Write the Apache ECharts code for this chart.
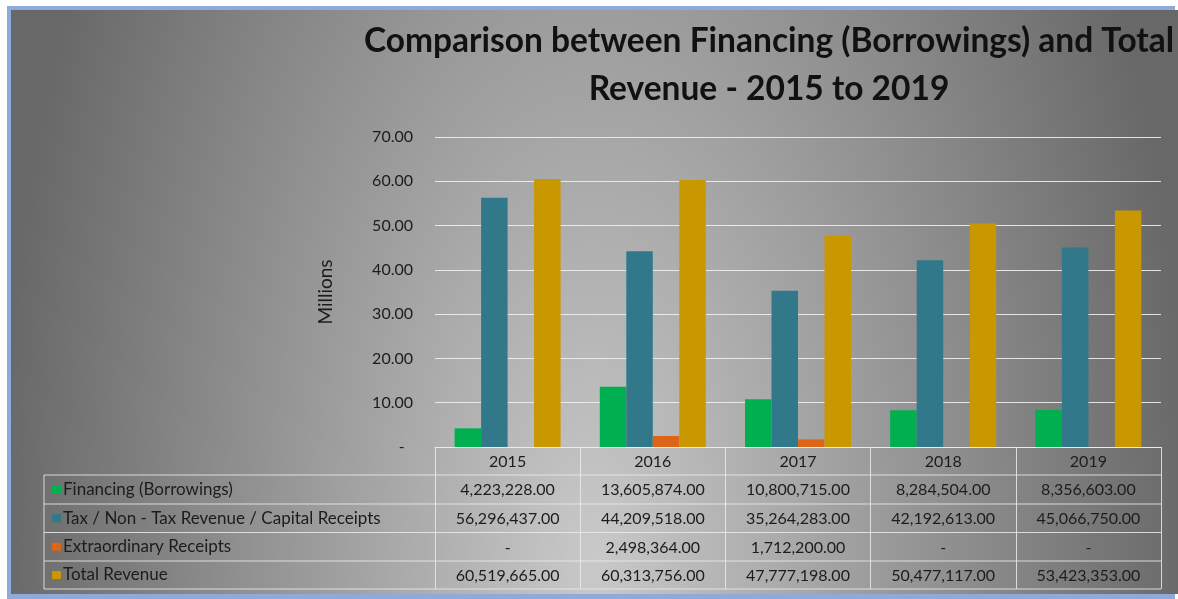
<!DOCTYPE html>
<html>
<head>
<meta charset="utf-8">
<title>Financing vs Total Revenue</title>
<script src="https://cdn.jsdelivr.net/npm/echarts@6/dist/echarts.min.js"></script>
<style>
  html, body { margin: 0; padding: 0; background: #fff; overflow: hidden; }
  #chart { width: 1178px; height: 599px; }
</style>
</head>
<body>
<div id="chart"></div>
<script>
  // data (raw values, shown in millions on the axis)
  var years = ['2015', '2016', '2017', '2018', '2019'];
  var seriesNames = ['Financing (Borrowings)', 'Tax / Non - Tax Revenue / Capital Receipts', 'Extraordinary Receipts', 'Total Revenue'];
  var financing = [4223228, 13605874, 10800715, 8284504, 8356603];
  var taxRevenue = [56296437, 44209518, 35264283, 42192613, 45066750];
  var extraordinary = [null, 2498364, 1712200, null, null];
  var totalRevenue = [60519665, 60313756, 47777198, 50477117, 53423353];
  var yMin = 0, yMax = 70, yStep = 10;
  var colors = ['#00b050', '#31788a', '#dd6517', '#c99700'];

  var rows = [financing, taxRevenue, extraordinary, totalRevenue];
  var font = 'Lato, "Open Sans", sans-serif';
  var txt = '#1c1c1c';
  var lineCol = 'rgba(235,235,235,0.85)';
  var frameCol = '#8eaadb';

  // layout of the plot + table
  var gLeft = 435, gRight = 1161, gTop = 137, gBottom = 447;
  var rowLines = [475, 504, 532.5, 561, 589];
  var tableLeft = 44;

  function fmt(v) {
    if (v == null) return '-';
    var parts = v.toFixed(2).split('.');
    return parts[0].replace(/\B(?=(\d{3})+$)/g, ',') + '.' + parts[1];
  }

  var chart = echarts.init(document.getElementById('chart'));

  var xAxes = [{
    type: 'category',
    data: years,
    gridIndex: 0,
    axisLine: { show: true, lineStyle: { color: lineCol, width: 1 } },
    axisTick: { show: true, length: rowLines[4] - gBottom, lineStyle: { color: lineCol, width: 1 } },
    axisLabel: { color: txt, fontSize: 16, fontFamily: font, margin: 7 }
  }];
  rows.forEach(function (r, k) {
    xAxes.push({
      type: 'category',
      data: years,
      gridIndex: 0,
      position: 'bottom',
      offset: rowLines[k] - gBottom,
      axisLine: { show: false },
      axisTick: { show: false },
      axisLabel: {
        color: txt, fontSize: 16, fontFamily: font, margin: 7,
        formatter: function (val, idx) { return fmt(r[idx]); }
      }
    });
  });

  var graphics = [
    {
      type: 'rect', z: -19, x: 11, y: 10, scaleY: 2,
      shape: { x: 0, y: 0, width: 1167, height: 292 },
      style: {
        fill: new echarts.graphic.RadialGradient(0.5, 0.94, 2.05, [
          { offset: 0, color: '#c9c9c9' },
          { offset: 1, color: '#686868' }
        ])
      }
    },
    // frame: top, left, bottom
    { type: 'rect', z: -18, shape: { x: 7, y: 6, width: 1168, height: 4 }, style: { fill: frameCol } },
    { type: 'rect', z: -18, shape: { x: 7, y: 6, width: 4, height: 593 }, style: { fill: frameCol } },
    { type: 'rect', z: -18, shape: { x: 7, y: 594, width: 1168, height: 5 }, style: { fill: frameCol } }
  ];
  rowLines.forEach(function (y) {
    graphics.push({ type: 'line', z: 5, shape: { x1: tableLeft, y1: y, x2: gLeft, y2: y }, style: { stroke: lineCol, lineWidth: 1 } });
    graphics.push({ type: 'line', z: 5, shape: { x1: gLeft, y1: y, x2: gRight, y2: y }, style: { stroke: lineCol, lineWidth: 1 } });
  });
  graphics.push({ type: 'line', z: 5, shape: { x1: tableLeft, y1: rowLines[0], x2: tableLeft, y2: rowLines[4] }, style: { stroke: lineCol, lineWidth: 1 } });
  seriesNames.forEach(function (name, k) {
    var cy = (rowLines[k] + rowLines[k + 1]) / 2;
    graphics.push({ type: 'rect', z: 5, shape: { x: 52, y: cy - 4, width: 9, height: 8 }, style: { fill: colors[k] } });
    graphics.push({
      type: 'text', z: 5, x: 63, y: cy,
      style: { text: name, fill: txt, fontSize: 17, fontFamily: font, verticalAlign: 'middle', align: 'left' }
    });
  });

  var option = {
    backgroundColor: '#ffffff',
    animation: false,
    color: colors,
    title: {
      text: 'Comparison between Financing (Borrowings) and Total\nRevenue - 2015 to 2019',
      left: 764,
      top: 12,
      textAlign: 'center',
      textStyle: { color: '#111', fontSize: 33.5, fontWeight: 'bold', fontFamily: font, lineHeight: 48 }
    },
    grid: { left: gLeft, right: 1178 - gRight, top: gTop, bottom: 599 - gBottom, containLabel: false },
    xAxis: xAxes,
    yAxis: {
      type: 'value',
      min: yMin, max: yMax, interval: yStep,
      name: 'Millions',
      nameLocation: 'middle',
      nameRotate: 90,
      nameGap: 100,
      nameTextStyle: { color: txt, fontSize: 19, fontFamily: font },
      axisLine: { show: false },
      axisTick: { show: false },
      splitLine: { lineStyle: { color: 'rgba(240,240,240,0.9)', width: 1 } },
      axisLabel: {
        color: txt, fontSize: 16, fontFamily: font, margin: 22,
        formatter: function (v) { return v === 0 ? '-  ' : v.toFixed(2); }
      }
    },
    graphic: { elements: graphics },
    series: rows.map(function (r, k) {
      return {
        name: seriesNames[k],
        type: 'bar',
        xAxisIndex: 0,
        barGap: '0%',
        barCategoryGap: '27%',
        data: r.map(function (v) { return v == null ? '-' : v / 1e6; })
      };
    })
  };

  chart.setOption(option);
</script>
</body>
</html>
